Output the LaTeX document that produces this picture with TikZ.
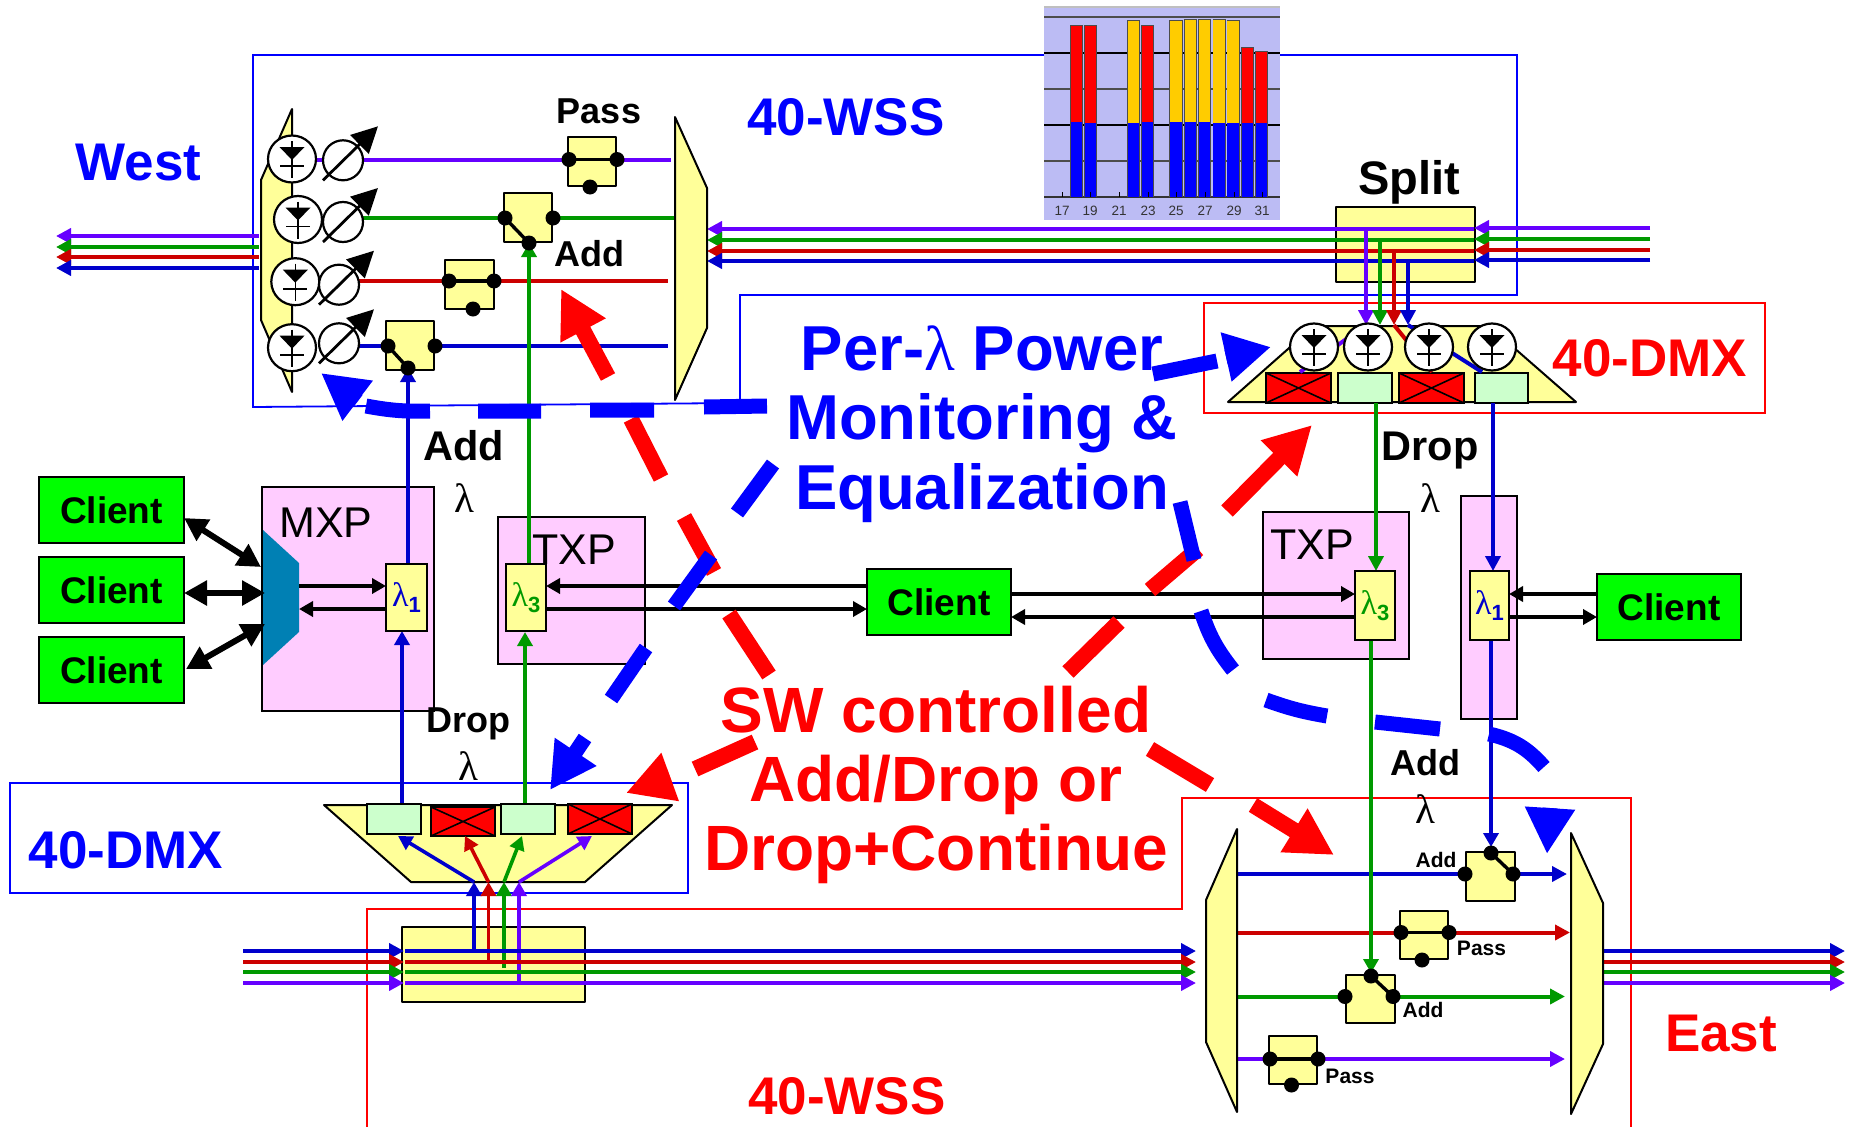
\documentclass[tikz,border=0pt]{standalone}
\usepackage{fontspec}
\setmainfont{Liberation Sans}
\newfontfamily\lamf{Liberation Serif}
\usetikzlibrary{arrows.meta,shapes.geometric}
\definecolor{wyel}{HTML}{FFFF99}
\definecolor{wpink}{HTML}{FFCCFF}
\definecolor{wmint}{HTML}{CCFFCC}
\definecolor{wblue}{HTML}{0000CC}
\definecolor{wred}{HTML}{CC0000}
\definecolor{wgreen}{HTML}{009900}
\definecolor{wpurple}{HTML}{6600FF}
\definecolor{wteal}{HTML}{0080B4}
\definecolor{wclient}{HTML}{00FF00}
\definecolor{wchart}{HTML}{BCBCF4}
\definecolor{wgold}{HTML}{FFCC00}
\pgfdeclarelayer{bg}\pgfdeclarelayer{wires}\pgfdeclarelayer{top}
\pgfsetlayers{bg,wires,main,top}
\tikzset{
  every node/.style={inner sep=0pt,outer sep=0pt},
  yel/.style={draw=black,line width=2pt,fill=wyel,line join=round},
  pinkbox/.style={draw=black,line width=2pt,fill=wpink},
  mint/.style={draw=black,line width=2pt,fill=wmint},
  redx/.style={draw=black,line width=2pt,fill=red},
  clientbox/.style={draw=black,line width=2pt,fill=wclient,font=\fontsize{37}{41}\selectfont\bfseries},
  lambox/.style={draw=black,line width=2pt,fill=wyel},
  dot/.style={circle,fill=black,minimum size=15pt},
  wire/.style={line width=4pt},
  rail/.style={wire,-{Triangle[length=15pt,width=15pt]}},
  fine/.style={line width=3.6pt,-{Triangle[length=14pt,width=15pt]}},
  blk/.style={line width=3.6pt,black,-{Triangle[length=14pt,width=15pt]}},
  thick2/.style={line width=6pt,black,{Triangle[length=23pt,width=24pt]}-{Triangle[length=23pt,width=24pt]}},
  big/.style={font=\fontsize{53}{57}\selectfont\bfseries,anchor=base},
  mid/.style={font=\fontsize{36}{40}\selectfont\bfseries,anchor=base},
  lrg/.style={font=\fontsize{41.5}{45}\selectfont\bfseries,anchor=base},
  small/.style={font=\fontsize{21}{24}\selectfont\bfseries,anchor=base},
  plain/.style={font=\fontsize{43}{47}\selectfont,anchor=base},
  lamtxt/.style={font=\fontsize{41}{45}\selectfont\lamf},
  bdash/.style={line width=15pt,blue},
  rdash/.style={line width=16pt,red},
  bhead/.style={line width=15pt,blue,-{Triangle[length=46pt,width=47pt]}},
  rhead/.style={line width=16pt,red,-{Triangle[length=47pt,width=48pt]}},
}
% style, name, x1, y1, x2, y2, text
\newcommand{\boxn}[7]{\pgfmathsetmacro\bw{#5-#3}\pgfmathsetmacro\bh{#6-#4}%
  \node[#1,minimum width=\bw pt,minimum height=\bh pt,anchor=north west] (#2) at (#3,#4) {#7};}
\newcommand{\xboxn}[5]{\boxn{redx}{#1}{#2}{#3}{#4}{#5}{}%
  \draw[line width=1.6pt] (#1.north west)--(#1.south east) (#1.north east)--(#1.south west);}
% name, box x1,y1,x2,y2, dot a, dot b, dot c : the lever joins a and b
\newcommand{\sw}[8]{\boxn{yel}{#1}{#2}{#3}{#4}{#5}{}%
  \node[dot] (#1a) at (#6) {};\node[dot] (#1b) at (#7) {};\node[dot] (#1c) at (#8) {};%
  \draw[line width=3.4pt] (#1a.center)--(#1b.center);}
\newcommand{\pd}[3]{\node[ellipse,draw=black,line width=2.2pt,fill=white,minimum width=48pt,minimum height=47pt] (#1) at (#2,#3) {};%
  \begin{scope}[shift={(#2,#3)}]
  \fill (-12.5,-12)--(12.5,-12)--(0,1)--cycle;
  \draw[line width=1.6pt] (0,-18)--(0,19) (-12,7)--(12,7);
  \end{scope}}
\newcommand{\voa}[3]{\node[circle,draw=black,line width=2.2pt,fill=white,minimum size=40pt] (#1) at (#2,#3) {};%
  \begin{scope}[shift={(#2,#3)}]
  \draw[line width=2.8pt,-{Triangle[length=26pt,width=26pt]}] (-20,20)--(35,-34);
  \end{scope}}
\newcommand{\lamlab}[2]{\textcolor{#1}{{\fontsize{34}{36}\selectfont\lamf λ}\raisebox{-6pt}{\fontsize{22}{24}\selectfont\bfseries #2}}}
\newcommand{\cbar}[5]{\fill[black!70] (#1-.8,#3-.8) rectangle (#2+.8,197);
  \fill[#5] (#1,#3) rectangle (#2,#4);\fill[blue] (#1,#4) rectangle (#2,197);}
\begin{document}
\begin{tikzpicture}[x=1pt,y=-1pt]
\useasboundingbox (0,0) rectangle (1850,1127);

\begin{pgfonlayer}{bg}
% outline frames
\draw[blue,line width=1.8pt] (253,55)--(1517,55)--(1517,295)--(740,295)--(740,403)--(253,407)--cycle;
\draw[red,line width=1.6pt] (1204,303) rectangle (1765,413);
\draw[blue,line width=1.8pt] (10,783) rectangle (688,893);
\draw[red,line width=1.6pt] (367,1127)--(367,909)--(1182,909)--(1182,798)--(1631,798)--(1631,1127);
% power chart
\fill[wchart] (1044,6) rectangle (1280,220);
\fill[black!25] (1044,6) rectangle (1280,8);
\foreach \gy in {17,89,161}{\draw[black!70,line width=1.2pt] (1044,\gy)--(1280,\gy);}
\foreach \gy in {53,125}{\draw[black,line width=1.2pt] (1044,\gy)--(1280,\gy);}
\draw[black!80,line width=1.2pt] (1044,197)--(1280,197);
\cbar{1070.7}{1082}{26}{122}{red}
\cbar{1084.7}{1096}{26}{123}{red}
\cbar{1127.7}{1139.3}{21}{123}{wgold}
\cbar{1141.7}{1153}{26}{122}{red}
\cbar{1170}{1181.7}{21}{122}{wgold}
\cbar{1185}{1196.3}{20}{122}{wgold}
\cbar{1198.7}{1210}{20}{122}{wgold}
\cbar{1213.3}{1225}{20}{123}{wgold}
\cbar{1227.3}{1238.7}{21}{123}{wgold}
\cbar{1242}{1253.3}{48}{123}{red}
\cbar{1255.7}{1267}{52}{123}{red}
\foreach \tx/\tl in {1062/17,1090/19,1119/21,1148/23,1176/25,1205/27,1234/29,1262/31}{
  \draw[black,line width=.8pt] (\tx,192)--(\tx,197);
  \node[font=\fontsize{13.5}{15}\selectfont,text=black!80] (tick\tl) at (\tx,211) {\tl};}
% yellow bodies
\boxn{yel}{split}{1336}{207}{1474.5}{282}{}
\boxn{yel}{tapw}{402}{927}{585}{1002}{}
\draw[yel] (1228,402)--(1314,326)--(1489,326)--(1576,402)--cycle;
\draw[yel] (324,805)--(672,805)--(585,882)--(411,882)--cycle;
% right DMX ports
\xboxn{dxa}{1266}{373}{1331}{403}
\boxn{mint}{dma}{1338}{373}{1392}{403}{}
\xboxn{dxb}{1399}{373}{1464}{403}
\boxn{mint}{dmb}{1474.5}{373}{1528}{403}{}
% left DMX ports
\boxn{mint}{lma}{367}{804}{421}{834}{}
\xboxn{lxa}{431}{807}{495}{836}
\boxn{mint}{lmb}{501}{804}{555}{834}{}
\xboxn{lxb}{568}{804}{632}{834}
% pink cards
\boxn{pinkbox}{mxp}{262}{487}{434}{711}{}
\boxn{pinkbox}{txpl}{498}{517}{645}{664}{}
\boxn{pinkbox}{txpr}{1263}{512}{1409}{659}{}
\boxn{pinkbox}{card}{1461}{496}{1517}{719}{}
\end{pgfonlayer}

% WSS muxes
\draw[yel] (292,109)--(261,180)--(261,320)--(292,392)--cycle;
\draw[yel] (675,117)--(707,188)--(707,328)--(675,400)--cycle;
\draw[yel] (1237,829)--(1206,900)--(1206,1042)--(1237,1112)--cycle;
\draw[yel] (1571,833)--(1603,903)--(1603,1044)--(1571,1114)--cycle;
% west photodiodes and attenuators
\pd{pa}{292}{159}\pd{pb}{298}{219.5}\pd{pc}{295.3}{281.7}\pd{pd}{292}{347.7}
\voa{va}{343}{160.3}\voa{vb}{343}{222}\voa{vc}{339}{284.7}\voa{vd}{339}{343.3}
% east-side photodiodes
\pd{qa}{1314}{347}\pd{qb}{1368}{347}\pd{qc}{1429}{347}\pd{qd}{1492}{347}
% switches
\sw{s1}{568}{137}{616}{186}{569,159.5}{617,159.5}{590,187}
\sw{s2}{504}{193}{552}{242}{505,218}{529,243}{553,218}
\sw{s3}{445}{260}{494}{309}{449,281}{494,281}{473,309}
\sw{s4}{386}{321}{434}{370}{388,346}{408,368}{435,346}
\sw{s5}{1466}{852}{1515}{901}{1491,853}{1513,874}{1465,874}
\sw{s6}{1400}{911}{1448}{959}{1401,932.5}{1449,932.5}{1422,960}
\sw{s7}{1346}{975}{1394.5}{1023}{1371,976}{1393,996.5}{1345,996.5}
\sw{s8}{1269}{1036}{1317}{1084}{1270,1059}{1318,1059}{1291.5,1085}
% clients
\boxn{clientbox}{c1}{39}{477}{184}{543}{\raisebox{-1pt}{Client}}
\boxn{clientbox}{c2}{39}{557}{184}{623}{\raisebox{-1pt}{Client}}
\boxn{clientbox}{c3}{39}{637}{184}{703}{\raisebox{-1pt}{Client}}
\boxn{clientbox}{cm}{867}{569}{1011}{635}{\raisebox{-1pt}{Client}}
\boxn{clientbox}{cr}{1597}{574}{1741}{640}{\raisebox{-1pt}{Client}}
% muxponder
\draw[draw=none,fill=wteal] (263,530)--(299,563)--(299,632)--(263,665)--cycle;
\coordinate (mxa) at (261,567);\coordinate (mxb) at (265,593);\coordinate (mxc) at (265,624);
\coordinate (mxo) at (299,586);\coordinate (mxi) at (299,609);
% lambda boxes
\boxn{lambox}{l1}{386}{564}{427}{631}{\lamlab{wblue}{1}}
\boxn{lambox}{l3}{506}{564}{546}{631}{\lamlab{wgreen}{3}}
\boxn{lambox}{r3}{1355}{571}{1395}{640}{\lamlab{wgreen}{3}}
\boxn{lambox}{r1}{1470}{571}{1509}{640}{\lamlab{wblue}{1}}

\begin{pgfonlayer}{wires}
% west WSS channels
\draw[wire,wpurple] (pa.east|-s1a)--(va.west|-s1a) (va.east|-s1a)--(s1a.center);
\draw[wire,wpurple] (s1b.center)--(671,159.5);
\draw[wire,wgreen] (vb.east|-s2a)--(s2a.center) (s2c.center)--(675,218);
\draw[wire,wred] (vc.east|-s3a)--(s3a.center) (s3b.center)--(668,281);
\draw[wire,wblue] (vd.east|-s4a)--(s4a.center) (s4c.center)--(668,346);
% west outgoing
\foreach \y/\c in {236/wpurple,247/wgreen,257/wred,268/wblue}{\draw[rail,\c] (259,\y)--(56,\y);}
% east-to-west rails
\foreach \ya/\yb/\c in {228/229/wpurple,239/240/wgreen,250/251/wred,260/261/wblue}{
  \draw[rail,\c] (1650,\ya)--(1474,\ya);
  \draw[rail,\c] (1474,\yb)--(707,\yb);}
% drop to right DMX
\draw[rail,wpurple] (1366,229)--(1366,325);
\draw[rail,wgreen] (1380,240)--(1380,325);
\draw[rail,wred] (1394,251)--(1394,325);
\draw[rail,wblue] (1408,261)--(1408,325);
\draw[wire,wpurple] (1366,325)--(1300,372);
\draw[wire,wred] (1394,325)--(1432,372);
\draw[wire,wblue] (1408,325)--(1482,372);
% west side add/drop
\draw[fine,wblue] (l1.north-|s4b)--(s4b.center);
\draw[fine,wgreen] (l3.north-|s2b)--(s2b.center);
\draw[fine,wblue] (402,803)--(402,631);
\draw[fine,wgreen] (525,803)--(525,632);
% bottom DMX
\foreach \xa/\ya/\xb/\c in {474/951/398/wblue,488.5/960/465/wred,504/968/522/wgreen,519/983/592/wpurple}{
  \draw[fine,\c] (\xa,\ya)--(\xa,882);
  \draw[fine,\c] (\xa,882)--(\xb,836);}
% bottom rails
\foreach \y/\c in {951/wblue,962/wred,972/wgreen,983/wpurple}{
  \draw[rail,\c] (243,\y)--(404,\y);
  \draw[rail,\c] (405,\y)--(1196,\y);
  \draw[rail,\c] (1603,\y)--(1845,\y);}
% east WSS channels
\draw[wire,wblue] (1235,874)--(s5c.center);
\draw[rail,wblue] (s5b.center)--(1567,874);
\draw[wire,wred] (1237,932.5)--(s6a.center);
\draw[rail,wred] (s6b.center)--(1570,932.5);
\draw[wire,wgreen] (1237,996.5)--(s7c.center);
\draw[rail,wgreen] (s7b.center)--(1565,996.5);
\draw[wire,wpurple] (1237,1059)--(s8a.center);
\draw[rail,wpurple] (s8b.center)--(1565,1059);
% east side drop
\draw[rail,wgreen] (1376,403)--(1376,571);
\draw[rail,wblue] (1493,403)--(1493,571);
\draw[fine,wgreen,shorten >=3pt] (s7a|-r3.south)--(s7a.center);
\draw[fine,wblue,shorten >=6pt] (s5a|-r1.south)--(s5a.center);
\end{pgfonlayer}

% client arrows
\draw[thick2] (184,518)--(mxa);
\draw[thick2] (184,593)--(mxb);
\draw[thick2] (186,669)--(mxc);
\draw[blk] (mxo)--(l1.west|-mxo);
\draw[blk] (l1.west|-mxi)--(mxi);
\draw[blk] (cm.west|-0,586)--(l3.east|-0,586);
\draw[blk] (l3.east|-0,609)--(cm.west|-0,609);
\draw[blk] (cm.east|-0,594)--(r3.west|-0,594);
\draw[blk] (r3.west|-0,617)--(cm.east|-0,617);
\draw[blk] (cr.west|-0,594)--(r1.east|-0,594);
\draw[blk] (r1.east|-0,617)--(cr.west|-0,617);

% labels
\node[big,text=blue] (west) at (138.5,180.5) {West};
\node[big,text=blue] (wssb) at (846,135.5) {40-WSS};
\node[big,text=red] (dmxr) at (1650,376) {40-DMX};
\node[big,text=blue] (dmxb) at (126,868) {40-DMX};
\node[big,text=red] (wssr) at (847,1114.5) {40-WSS};
\node[big,text=red] (east) at (1721,1051) {East};
\node[mid] (tpass) at (599,123) {Pass};
\node[mid] (tadd) at (589,266) {Add};
\node[lrg] (tadd2) at (464,460) {Add};
\node[lrg] (tdrop) at (1430,460) {Drop};
\node[mid] (tdrop2) at (468,732) {Drop};
\node[mid] (tadd3) at (1425,775) {Add};
\node[font=\fontsize{47}{51}\selectfont\bfseries,anchor=base] (tsplit) at (1409,194) {Split};
\node[lamtxt] (la) at (464,498) {λ};
\node[lamtxt] (lb) at (1430,498) {λ};
\node[lamtxt] (lc) at (468,766) {λ};
\node[lamtxt] (ld) at (1425,809) {λ};
\node[small] (pa1) at (1436,867) {Add};
\node[small] (pa2) at (1481.5,955) {Pass};
\node[small] (pa3) at (1423,1017) {Add};
\node[small] (pa4) at (1350,1083) {Pass};
\node[plain] (tmxp) at (326,537) {MXP};
\node[plain] (ttxp) at (574,564) {TXP};
\node[plain] (ttxp2) at (1312,559) {TXP};
\node[align=center,text=blue,font=\fontsize{63.5}{69.5}\selectfont\bfseries] (perl) at (982,424)
  {Per-{\lamf\mdseries λ} Power\\Monitoring \&\\Equalization};
\node[align=center,text=red,font=\fontsize{64}{69}\selectfont\bfseries] (swc) at (936,785)
  {SW controlled\\Add/Drop or\\Drop+Continue};

\begin{pgfonlayer}{top}
% red dashed arrows
\draw[rdash] (631,419)--(661,478) (684,517)--(714,572) (729,614)--(769,675);
\draw[rhead] (608,377)--(561,289);
\draw[rdash] (1068,672)--(1119,622) (1150,590)--(1198,549);
\draw[rhead] (1227,511)--(1312,425);
\draw[rdash] (695,769)--(755,742);
\draw[rhead] (670,777)--(626,793);
\draw[rdash] (1150,749)--(1210,785);
\draw[rhead] (1253,805)--(1334,855);
% blue dashed arrows
\draw[bdash] (704,407)--(767,406) (590,410)--(654,410) (478,411)--(541,411);
\draw[bdash] (430,411) to[bend left=6] (366,406);
\draw[bhead] (358,401)--(321,373);
\draw[bdash] (1153,374)--(1217,361);
\draw[bhead] (1226,357)--(1271,347);
\draw[bdash] (773,464)--(737,513) (711,555)--(674,606) (646,648)--(611,699);
\draw[bhead] (585,738)--(550,790);
\draw[bdash] (1180,502)--(1194,560);
\draw[bdash] (1201,611) to[bend right=10] (1233,670);
\draw[bdash] (1266,700) to[bend right=5] (1327,716);
\draw[bdash] (1375,722)--(1440,729);
\draw[bdash] (1489,734) to[bend left=18] (1544,767);
\draw[bhead] (1550,808)--(1547,854);
\end{pgfonlayer}
\end{tikzpicture}
\end{document}
